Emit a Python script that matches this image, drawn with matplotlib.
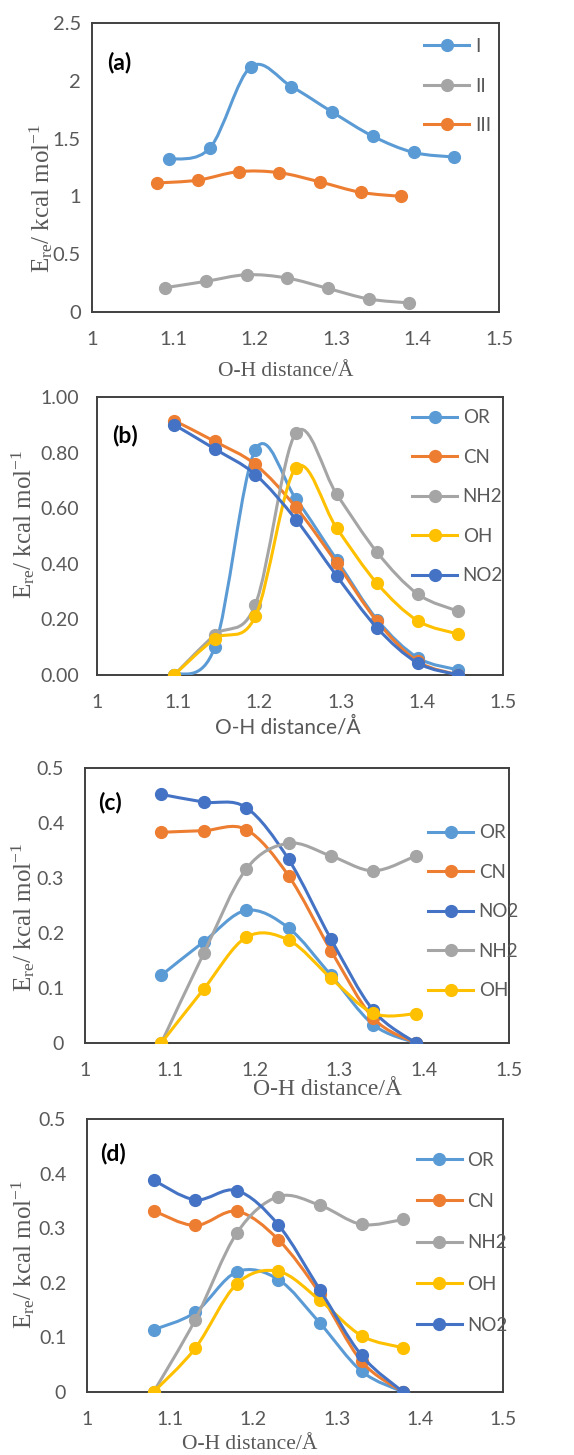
import matplotlib
matplotlib.use("Agg")
import matplotlib.pyplot as plt
from matplotlib.path import Path
from matplotlib.patches import PathPatch
from matplotlib.lines import Line2D
import numpy as np

plt.rcParams['font.family'] = ['Lato', 'DejaVu Sans']
plt.rcParams['mathtext.fontset'] = 'custom'
plt.rcParams['mathtext.rm'] = 'Liberation Serif'
plt.rcParams['mathtext.it'] = 'Liberation Serif:italic'

# Excel office colours
BLUE = '#5B9BD5'
ORANGE = '#ED7D31'
GRAY = '#A5A5A5'
YELLOW = '#FFC000'
DBLUE = '#4472C4'
TXT = '#595959'

xticks = [1, 1.1, 1.2, 1.3, 1.4, 1.5]

# ---- panel (a)
xa_I = [1.095, 1.145, 1.195, 1.245, 1.295, 1.345, 1.395, 1.445]
ya_I = [1.32, 1.42, 2.12, 1.95, 1.73, 1.52, 1.38, 1.34]
xa_II = [1.09, 1.14, 1.19, 1.24, 1.29, 1.34, 1.39]
ya_II = [0.21, 0.265, 0.322, 0.293, 0.203, 0.112, 0.078]
xa_III = [1.08, 1.13, 1.18, 1.23, 1.28, 1.33, 1.38]
ya_III = [1.116, 1.14, 1.214, 1.205, 1.125, 1.035, 1.0]
yticks_a = [0, 0.5, 1, 1.5, 2, 2.5]

# ---- panel (b)
xb = [1.095, 1.145, 1.195, 1.245, 1.295, 1.345, 1.395, 1.445]
yb_OR = [0.0, 0.10, 0.81, 0.633, 0.415, 0.199, 0.062, 0.018]
yb_CN = [0.915, 0.84, 0.757, 0.603, 0.403, 0.193, 0.049, 0.0]
yb_NH2 = [0.0, 0.144, 0.253, 0.871, 0.651, 0.441, 0.291, 0.229]
yb_OH = [0.0, 0.13, 0.211, 0.745, 0.529, 0.329, 0.195, 0.147]
yb_NO2 = [0.90, 0.813, 0.721, 0.559, 0.357, 0.169, 0.043, 0.0]
yticks_b = [0, 0.2, 0.4, 0.6, 0.8, 1.0]

# ---- panel (c)
xc = [1.09, 1.14, 1.19, 1.24, 1.29, 1.34, 1.39]
yc_OR = [0.123, 0.184, 0.241, 0.209, 0.123, 0.033, 0.0]
yc_CN = [0.383, 0.386, 0.388, 0.304, 0.168, 0.045, 0.0]
yc_NO2 = [0.452, 0.438, 0.428, 0.334, 0.189, 0.059, 0.0]
yc_NH2 = [0.0, 0.163, 0.316, 0.363, 0.340, 0.313, 0.340]
yc_OH = [0.0, 0.098, 0.192, 0.187, 0.118, 0.054, 0.053]

# ---- panel (d)
xd = [1.08, 1.13, 1.18, 1.23, 1.28, 1.33, 1.38]
yd_OR = [0.114, 0.146, 0.220, 0.206, 0.126, 0.038, 0.0]
yd_CN = [0.332, 0.305, 0.331, 0.279, 0.180, 0.056, 0.0]
yd_NH2 = [0.0, 0.132, 0.291, 0.358, 0.342, 0.307, 0.316]
yd_OH = [0.0, 0.080, 0.198, 0.221, 0.168, 0.103, 0.081]
yd_NO2 = [0.388, 0.352, 0.369, 0.306, 0.187, 0.067, 0.0]
yticks_cd = [0, 0.1, 0.2, 0.3, 0.4, 0.5]

YLAB = r'E$_{\mathrm{re}}$/ kcal mol$^{\mathrm{-1}}$'
XLAB = 'O-H distance/Å'
SERIF = 'Liberation Serif'


def smooth(x, y):
    # excel-like smoothed line: catmull-rom as cubic bezier
    p = np.column_stack([x, y]).astype(float)
    n = len(p)
    verts = [p[0]]
    codes = [Path.MOVETO]
    for i in range(n - 1):
        p0 = p[max(i - 1, 0)]
        p1 = p[i]
        p2 = p[i + 1]
        p3 = p[min(i + 2, n - 1)]
        verts += [p1 + (p2 - p0) / 6, p2 - (p3 - p1) / 6, p2]
        codes += [Path.CURVE4] * 3
    return Path(verts, codes)


def series(ax, x, y, color, z):
    ax.add_patch(PathPatch(smooth(x, y), facecolor='none', edgecolor=color,
                           lw=2.2, capstyle='round', joinstyle='round', zorder=z))
    ax.plot(x, y, 'o', color=color, ms=8.5, zorder=z + 0.5)
    return Line2D([], [], color=color, lw=2.2, marker='o', ms=8.5)


def setup(ax, yt, ylim, fmt, tfs):
    ax.set_xlim(1, 1.5)
    ax.set_ylim(*ylim)
    ax.set_xticks(xticks)
    ax.set_xticklabels([f'{v:g}' for v in xticks])
    ax.set_yticks(yt)
    ax.set_yticklabels([fmt % v for v in yt])
    ax.tick_params(length=0, labelsize=tfs, labelcolor=TXT)
    ax.tick_params(axis='x', pad=14)
    for s in ax.spines.values():
        s.set_color('#404040')
        s.set_linewidth(1.4)


def ylab(ax, xpos, ypos):
    ax.set_ylabel(YLAB, fontsize=18, color=TXT, va='center', family=SERIF)
    ax.yaxis.set_label_coords(xpos, ypos)


fig = plt.figure(figsize=(5.74, 14.55), dpi=100)

# (a)
ax = fig.add_axes([0.1603, 0.7856, 0.7091, 0.1986])
h1 = series(ax, xa_I, ya_I, BLUE, 3)
h2 = series(ax, xa_II, ya_II, GRAY, 4)
h3 = series(ax, xa_III, ya_III, ORANGE, 5)
setup(ax, yticks_a, (0, 2.5), '%g', 14.5)
ax.tick_params(axis='y', pad=8)
ax.legend([h1, h2, h3], ['I', 'II', 'III'], loc='upper left', bbox_to_anchor=(0.816, 0.948),
          frameon=False, fontsize=13.5, labelcolor=TXT, handlelength=2.4, handletextpad=0.3,
          labelspacing=1.2, borderpad=0, borderaxespad=0)
ax.text(0.037, 0.862, '(a)', transform=ax.transAxes, fontsize=16.5, fontweight='bold', va='center')
ylab(ax, -0.125, 0.394)
ax.set_xlabel(XLAB, fontsize=15.5, color=TXT, family=SERIF)
ax.xaxis.set_label_coords((286 - 92) / 407, -(372 - 312) / 289)
ax.xaxis.label.set_va('center')

# (b)
ax = fig.add_axes([0.1690, 0.5361, 0.7073, 0.1911])
hb = [series(ax, xb, yb_OR, BLUE, 3), series(ax, xb, yb_CN, ORANGE, 4),
      series(ax, xb, yb_NH2, GRAY, 5), series(ax, xb, yb_OH, YELLOW, 6),
      series(ax, xb, yb_NO2, DBLUE, 7)]
setup(ax, yticks_b, (0, 1.0), '%.2f', 14)
ax.tick_params(axis='y', pad=13)
ax.legend(hb, ['OR', 'CN', 'NH2', 'OH', 'NO2'], loc='upper left', bbox_to_anchor=(0.776, 0.955),
          frameon=False, fontsize=13.5, labelcolor=TXT, handlelength=2.4, handletextpad=0.3,
          labelspacing=1.2, borderpad=0, borderaxespad=0)
ax.text(0.037, 0.86, '(b)', transform=ax.transAxes, fontsize=16.5, fontweight='bold', va='center')
ylab(ax, -0.182, 0.543)
ax.set_xlabel(XLAB, fontsize=15, color=TXT)
ax.xaxis.set_label_coords((288 - 97) / 406, -(727 - 675) / 278)
ax.xaxis.label.set_va('center')

# (c)
ax = fig.add_axes([0.1481, 0.2832, 0.7387, 0.1890])
hc = [series(ax, xc, yc_OR, BLUE, 3), series(ax, xc, yc_CN, ORANGE, 4),
      series(ax, xc, yc_NO2, DBLUE, 5), series(ax, xc, yc_NH2, GRAY, 6),
      series(ax, xc, yc_OH, YELLOW, 7)]
setup(ax, yticks_cd, (0, 0.5), '%g', 14)
ax.tick_params(axis='y', pad=15)
ax.legend(hc, ['OR', 'CN', 'NO2', 'NH2', 'OH'], loc='upper left', bbox_to_anchor=(0.809, 0.795),
          frameon=False, fontsize=13.5, labelcolor=TXT, handlelength=2.4, handletextpad=0.3,
          labelspacing=1.2, borderpad=0, borderaxespad=0)
ax.text(0.031, 0.876, '(c)', transform=ax.transAxes, fontsize=16.5, fontweight='bold', va='center')
ylab(ax, -0.146, 0.458)
ax.set_xlabel(XLAB, fontsize=17, color=TXT, family=SERIF)
ax.xaxis.set_label_coords((327 - 85) / 424, -(1090 - 1043) / 275)
ax.xaxis.label.set_va('center')

# (d)
ax = fig.add_axes([0.1516, 0.0433, 0.7247, 0.1876])
hd = [series(ax, xd, yd_OR, BLUE, 3), series(ax, xd, yd_CN, ORANGE, 4),
      series(ax, xd, yd_NH2, GRAY, 5), series(ax, xd, yd_OH, YELLOW, 6),
      series(ax, xd, yd_NO2, DBLUE, 7)]
setup(ax, yticks_cd, (0, 0.5), '%g', 14)
ax.tick_params(axis='y', pad=15)
ax.legend(hd, ['OR', 'CN', 'NH2', 'OH', 'NO2'], loc='upper left', bbox_to_anchor=(0.793, 0.881),
          frameon=False, fontsize=13.5, labelcolor=TXT, handlelength=2.4, handletextpad=0.3,
          labelspacing=1.3, borderpad=0, borderaxespad=0)
ax.text(0.031, 0.875, '(d)', transform=ax.transAxes, fontsize=16.5, fontweight='bold', va='center')
ylab(ax, -0.154, 0.505)
ax.set_xlabel(XLAB, fontsize=15.5, color=TXT, family=SERIF)
ax.xaxis.set_label_coords((250 - 87) / 416, -(1445 - 1392) / 273)
ax.xaxis.label.set_va('center')

fig.savefig('out.png', dpi=100)
